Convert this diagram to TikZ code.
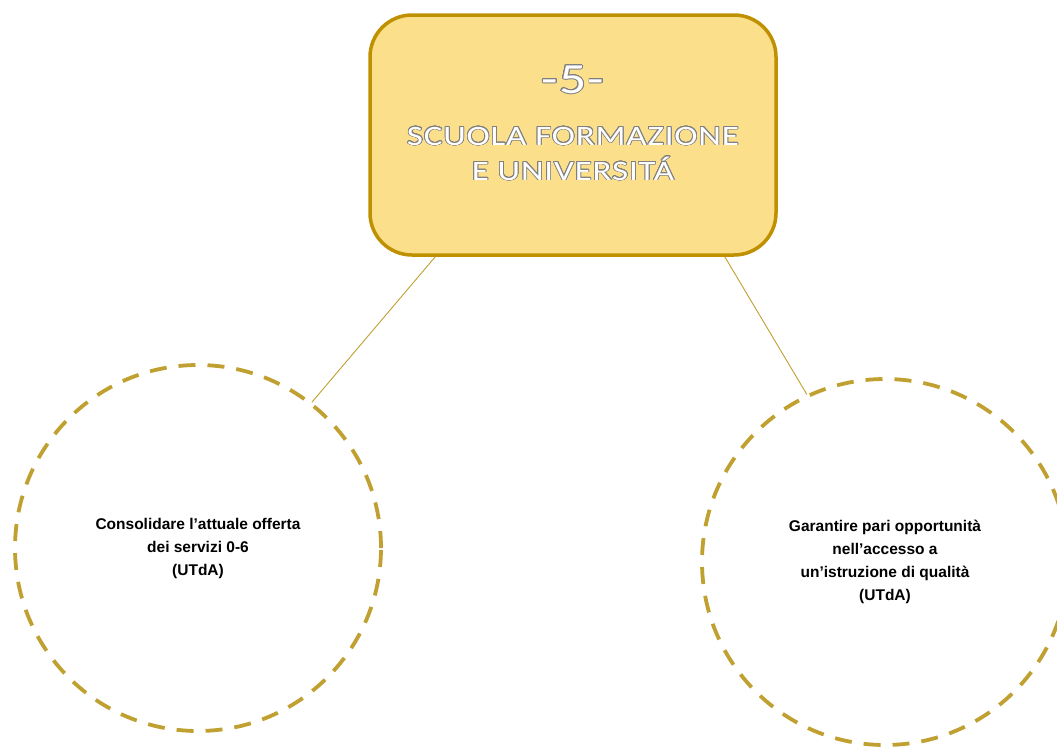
\documentclass[tikz,border=0pt]{standalone}
\usepackage{fontspec}
\setmainfont{Liberation Sans}
\newfontfamily\calib[FakeStretch=1.25,LetterSpace=3]{Carlito}
\usepackage{contour}
\contourlength{0.75pt}
\contournumber{24}
\definecolor{boxfill}{HTML}{FBDF8A}
\definecolor{boxline}{HTML}{BF9000}
\definecolor{dashc}{HTML}{BFA030}
\definecolor{outl}{HTML}{808080}
\newcommand{\olt}[1]{\contour{outl}{\textcolor{white}{#1}}}
\begin{document}
\begin{tikzpicture}[x=1pt,y=-1pt,
  topbox/.style={draw=boxline, line width=3.5pt, fill=boxfill, rounded corners=42pt,
    minimum width=406pt, minimum height=240pt, inner sep=0pt},
  goal/.style={circle, draw=dashc, line width=3.8pt, dash pattern=on 17pt off 12pt,
    minimum size=366pt, inner sep=0pt, align=center,
    font=\fontsize{15.5}{23}\selectfont\bfseries},
  link/.style={draw=dashc, line width=0.9pt}]
\useasboundingbox (0,0) rectangle (1057,747);
\begin{scope}
\clip (0,0) rectangle (1057,747);
\node[topbox] (top) at (573,135) {};
\node[font=\calib\fontsize{43}{43}\selectfont] (num) at (573,80) {\olt{-5-}};
\node[font=\calib\fontsize{28}{35}\selectfont, align=center] (title) at (573,154)
  {\olt{SCUOLA FORMAZIONE}\\\olt{E UNIVERSITÁ}};
\node[goal] (lc) at (198,548) {Consolidare l’attuale offerta\\dei servizi 0-6\\(UTdA)};
\node[goal] (rc) at (885,562) {Garantire pari opportunità\\nell’accesso a\\un’istruzione di qualità\\(UTdA)};
\draw[link] ([xshift=67pt]top.south west) -- (lc.52);
\draw[link] ([xshift=-53pt]top.south east) -- (rc.115.5);
\end{scope}
\end{tikzpicture}
\end{document}
